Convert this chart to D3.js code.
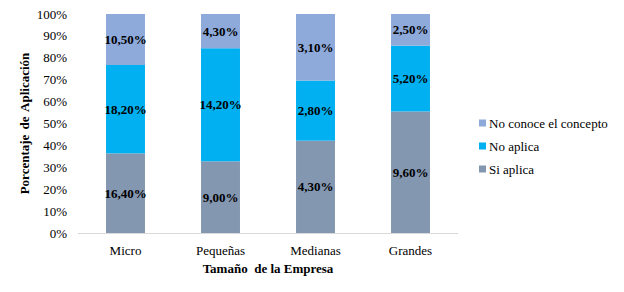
<!DOCTYPE html>
<html>
<head>
<meta charset="utf-8">
<script src="https://cdn.jsdelivr.net/npm/d3@7"></script>
<style>
  body { margin: 0; background: #fff; }
</style>
</head>
<body>
<svg id="chart" width="624" height="292" font-family="'Liberation Serif', 'Times New Roman', 'DejaVu Serif', serif"></svg>
<script>
// categorias y series (valores mostrados como etiquetas)
const categories = ['Micro', 'Pequeñas', 'Medianas', 'Grandes'];
const seriesNames = ['Si aplica', 'No aplica', 'No conoce el concepto'];
const siAplica = [16.40, 9.00, 4.30, 9.60];
const noAplica = [18.20, 14.20, 2.80, 5.20];
const noConoce = [10.50, 4.30, 3.10, 2.50];
const yTicks = [0, 10, 20, 30, 40, 50, 60, 70, 80, 90, 100];
const colors = ['#8497b0', '#00b0f0', '#8eaadb'];

const svg = d3.select('#chart');
const margin = { left: 78, right: 166, top: 14, bottom: 59 };
const width = 624 - margin.left - margin.right;
const height = 292 - margin.top - margin.bottom;

const data = categories.map((c, i) => ({
  cat: c,
  'Si aplica': siAplica[i],
  'No aplica': noAplica[i],
  'No conoce el concepto': noConoce[i]
}));

const stacked = d3.stack().keys(seriesNames).offset(d3.stackOffsetExpand)(data);

const x = d3.scaleBand().domain(categories).range([0, width]).paddingInner(0.59).paddingOuter(0.295);
const y = d3.scaleLinear().domain([0, 100]).range([height, 0]);

const g = svg.append('g').attr('transform', `translate(${margin.left},${margin.top})`);

// y axis labels
g.selectAll('text.ytick')
  .data(yTicks)
  .join('text')
  .attr('class', 'ytick')
  .attr('x', -11)
  .attr('y', (d) => y(d))
  .attr('dy', '0.35em')
  .attr('text-anchor', 'end')
  .style('font-size', '13px')
  .text((d) => d + '%');

// bars
const series = g.selectAll('g.series')
  .data(stacked)
  .join('g')
  .attr('class', 'series')
  .style('fill', (d, i) => colors[i]);

series.selectAll('rect')
  .data((d) => d.map((item) => ({ key: d.key, v: item, cat: item.data.cat })))
  .join('rect')
  .attr('x', (d) => x(d.cat))
  .attr('width', x.bandwidth())
  .attr('y', (d) => y(d.v[1] * 100))
  .attr('height', (d) => y(d.v[0] * 100) - y(d.v[1] * 100));

// data labels
series.selectAll('text')
  .data((d) => d.map((item) => ({ key: d.key, v: item, cat: item.data.cat })))
  .join('text')
  .attr('x', (d) => x(d.cat) + x.bandwidth() / 2)
  .attr('y', (d) => y((d.v[0] + d.v[1]) / 2 * 100))
  .attr('dy', '0.35em')
  .attr('text-anchor', 'middle')
  .style('font-size', '13px')
  .style('font-weight', 'bold')
  .style('fill', '#000')
  .text((d) => d.v.data[d.key].toFixed(2).replace('.', ',') + '%');

// x axis line
g.append('line')
  .attr('x1', 0).attr('x2', width)
  .attr('y1', height + 0.5).attr('y2', height + 0.5)
  .style('stroke', '#d9d9d9');

// x axis labels
g.selectAll('text.xtick')
  .data(categories)
  .join('text')
  .attr('class', 'xtick')
  .attr('x', (d) => x(d) + x.bandwidth() / 2)
  .attr('y', height + 22)
  .attr('text-anchor', 'middle')
  .style('font-size', '13px')
  .text((d) => d);

// axis titles
g.append('text')
  .attr('x', width / 2)
  .attr('y', height + 40)
  .attr('text-anchor', 'middle')
  .style('font-size', '13px')
  .style('font-weight', 'bold')
  .style('white-space', 'pre')
  .text('Tamaño  de la Empresa');

svg.append('text')
  .attr('transform', `translate(29,${margin.top + height / 2}) rotate(-90)`)
  .attr('text-anchor', 'middle')
  .style('font-size', '13px')
  .style('font-weight', 'bold')
  .style('word-spacing', '2px')
  .text('Porcentaje de Aplicación');

// legend (top to bottom: reversed series order)
const legend = svg.append('g').attr('transform', 'translate(479,123)');
const legendItems = seriesNames.slice().reverse();
legend.selectAll('rect')
  .data(legendItems)
  .join('rect')
  .attr('x', 0)
  .attr('y', (d, i) => i * 23 - 3.5)
  .attr('width', 7)
  .attr('height', 7)
  .style('fill', (d) => colors[seriesNames.indexOf(d)]);
legend.selectAll('text')
  .data(legendItems)
  .join('text')
  .attr('x', 10)
  .attr('y', (d, i) => i * 23)
  .attr('dy', '0.35em')
  .style('font-size', '13px')
  .text((d) => d);
</script>
</body>
</html>
